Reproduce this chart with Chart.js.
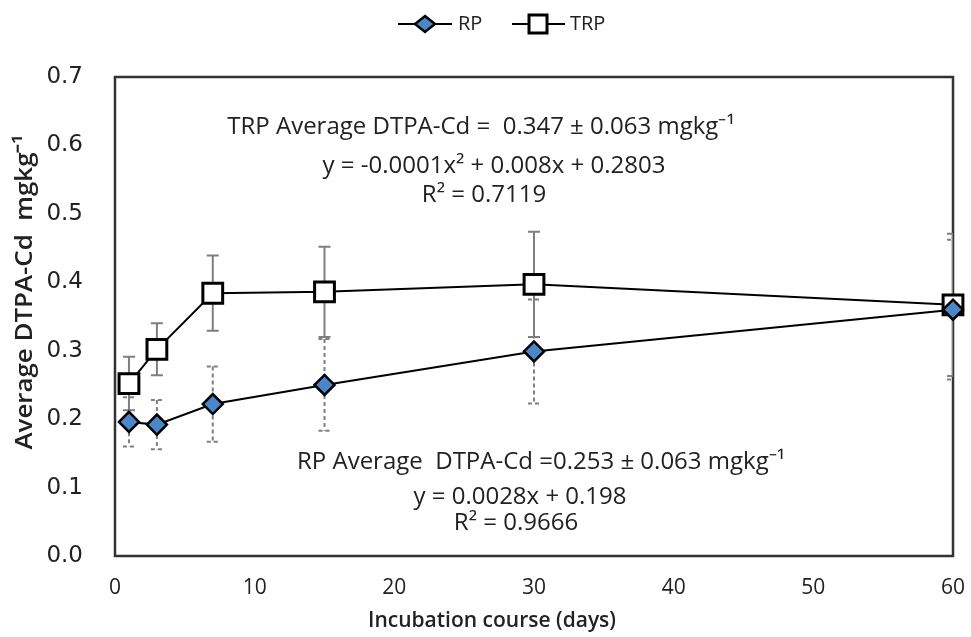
<!DOCTYPE html>
<html lang="en">
<head>
<meta charset="UTF-8">
<title>Average DTPA-Cd during incubation</title>
<script src="https://cdn.jsdelivr.net/npm/chart.js"></script>
<style>
    body { margin: 0; background: #fff; }
    #wrap { width: 971px; height: 637px; }
</style>
</head>
<body>
<div id="wrap"><canvas id="cdChart"></canvas></div>
<script>
    // values
    const days = [1, 3, 7, 15, 30, 60];
    const rpMean = [0.196, 0.192, 0.222, 0.250, 0.299, 0.360];
    const rpErr = [0.036, 0.036, 0.055, 0.067, 0.076, 0.102];
    const trpMean = [0.252, 0.302, 0.384, 0.386, 0.397, 0.367];
    const trpErr = [0.039, 0.038, 0.055, 0.066, 0.077, 0.104];
    const seriesNames = ['RP', 'TRP'];
    const xTicks = [0, 10, 20, 30, 40, 50, 60];
    const yTicks = [0, 0.1, 0.2, 0.3, 0.4, 0.5, 0.6, 0.7];
    const xTitle = 'Incubation course (days)';
    const yTitle = 'Average DTPA-Cd  mgkg\u207B\u00B9';

    const textFont = "'Open Sans', 'Liberation Sans', sans-serif";
    const rpBlue = '#4a86c8';

    // plot frame, drawn under the series
    const frame = {
        id: 'frame',
        beforeDatasetsDraw(chart) {
            const a = chart.chartArea, ctx = chart.ctx;
            ctx.save();
            ctx.strokeStyle = '#333';
            ctx.lineWidth = 2.5;
            ctx.strokeRect(a.left, a.top, a.right - a.left, a.bottom - a.top);
            ctx.restore();
        }
    };

    // error bars: TRP solid grey, RP dashed grey
    const errorBars = {
        id: 'errorBars',
        beforeDatasetsDraw(chart) {
            const ctx = chart.ctx, a = chart.chartArea;
            const xs = chart.scales.x, ys = chart.scales.y;
            const sets = [
                { mean: rpMean, err: rpErr, dash: [4, 3] },
                { mean: trpMean, err: trpErr, dash: [] }
            ];
            ctx.save();
            ctx.beginPath();
            ctx.rect(a.left, a.top, a.right - a.left, a.bottom - a.top);
            ctx.clip();
            ctx.strokeStyle = '#7f7f7f';
            ctx.lineWidth = 2;
            sets.forEach(s => {
                ctx.setLineDash(s.dash);
                days.forEach((d, i) => {
                    const x = xs.getPixelForValue(d);
                    const yt = ys.getPixelForValue(s.mean[i] + s.err[i]);
                    const yb = ys.getPixelForValue(s.mean[i] - s.err[i]);
                    ctx.beginPath();
                    ctx.moveTo(x, yt); ctx.lineTo(x, yb);
                    ctx.moveTo(x - 6, yt); ctx.lineTo(x + 6, yt);
                    ctx.moveTo(x - 6, yb); ctx.lineTo(x + 6, yb);
                    ctx.stroke();
                });
            });
            ctx.restore();
        }
    };

    function marker(ctx, kind, x, y) {
        ctx.beginPath();
        if (kind === 'diamond') {
            ctx.moveTo(x, y - 8); ctx.lineTo(x + 10, y); ctx.lineTo(x, y + 8); ctx.lineTo(x - 10, y);
            ctx.closePath();
            ctx.fillStyle = rpBlue;
            ctx.lineWidth = 2.5;
        } else {
            ctx.rect(x - 9, y - 9, 18, 18);
            ctx.fillStyle = '#fff';
            ctx.lineWidth = 3;
        }
        ctx.fill();
        ctx.strokeStyle = '#000';
        ctx.stroke();
    }

    // legend, axis titles and the fit notes
    const notes = {
        id: 'notes',
        afterDraw(chart) {
            const ctx = chart.ctx;
            ctx.save();
            // legend
            ctx.strokeStyle = '#000';
            ctx.lineWidth = 2;
            ctx.beginPath();
            ctx.moveTo(398, 24); ctx.lineTo(452, 24);
            ctx.moveTo(512, 24); ctx.lineTo(565, 24);
            ctx.stroke();
            marker(ctx, 'diamond', 425, 24);
            marker(ctx, 'square', 538, 24);
            ctx.fillStyle = '#222';
            ctx.font = "20px " + textFont;
            ctx.textBaseline = 'middle';
            ctx.textAlign = 'left';
            ctx.fillText(seriesNames[0], 458, 24);
            ctx.fillText(seriesNames[1], 570, 24);

            // axis titles
            ctx.textAlign = 'center';
            ctx.font = "600 21px " + textFont;
            ctx.fillText(xTitle, 492, 621);
            ctx.save();
            ctx.translate(25, 292);
            ctx.rotate(-Math.PI / 2);
            ctx.font = "600 24px " + textFont;
            const w = ctx.measureText(yTitle).width;
            ctx.scale(315 / w, 1);
            ctx.fillText(yTitle, 0, 0);
            ctx.restore();

            // fit annotations
            ctx.font = "24px " + textFont;
            ctx.fillText('TRP Average DTPA-Cd =  0.347 \u00B1 0.063 mgkg\u207B\u00B9', 481, 127);
            ctx.fillText('y = -0.0001x\u00B2 + 0.008x + 0.2803', 494, 166);
            ctx.fillText('R\u00B2 = 0.7119', 484, 195);
            ctx.fillText('RP Average  DTPA-Cd =0.253 \u00B1 0.063 mgkg\u207B\u00B9', 541, 462);
            ctx.fillText('y = 0.0028x + 0.198', 520, 497);
            ctx.fillText('R\u00B2 = 0.9666', 516, 523);
            ctx.restore();
        }
    };

    new Chart(document.getElementById('cdChart'), {
        type: 'line',
        data: {
            datasets: [{
                label: seriesNames[0],
                data: days.map((d, i) => ({ x: d, y: rpMean[i] })),
                borderColor: '#000',
                borderWidth: 2,
                pointStyle: 'rectRot',
                pointRadius: 10,
                pointBackgroundColor: rpBlue,
                pointBorderColor: '#000',
                pointBorderWidth: 2.5,
                clip: false
            }, {
                label: seriesNames[1],
                data: days.map((d, i) => ({ x: d, y: trpMean[i] })),
                borderColor: '#000',
                borderWidth: 2,
                pointStyle: 'rect',
                pointRadius: 14,
                pointBackgroundColor: '#fff',
                pointBorderColor: '#000',
                pointBorderWidth: 3,
                clip: false
            }]
        },
        options: {
            responsive: true,
            maintainAspectRatio: false,
            animation: false,
            layout: { padding: { top: 77, right: 18, left: 0, bottom: 0 } },
            plugins: {
                legend: { display: false },
                tooltip: { enabled: false }
            },
            scales: {
                x: {
                    type: 'linear',
                    min: 0, max: 60,
                    afterBuildTicks: s => { s.ticks = xTicks.map(v => ({ value: v })); },
                    afterFit: s => { s.height = 81; },
                    // tickLength only spaces the labels; the marks are not drawn
                    grid: { display: false, drawTicks: true, tickLength: 19 },
                    border: { display: false },
                    ticks: { padding: 0, color: '#222', font: { family: textFont, size: 21 } }
                },
                y: {
                    min: 0, max: 0.7,
                    afterBuildTicks: s => { s.ticks = yTicks.map(v => ({ value: v })); },
                    afterFit: s => { s.width = 115; },
                    grid: { display: false, drawTicks: true, tickLength: 32 },
                    border: { display: false },
                    ticks: { padding: 0, color: '#222', callback: v => v.toFixed(1),
                             font: { family: "'DejaVu Sans', sans-serif", size: 23 } }
                }
            }
        },
        plugins: [frame, errorBars, notes]
    });
</script>
</body>
</html>
